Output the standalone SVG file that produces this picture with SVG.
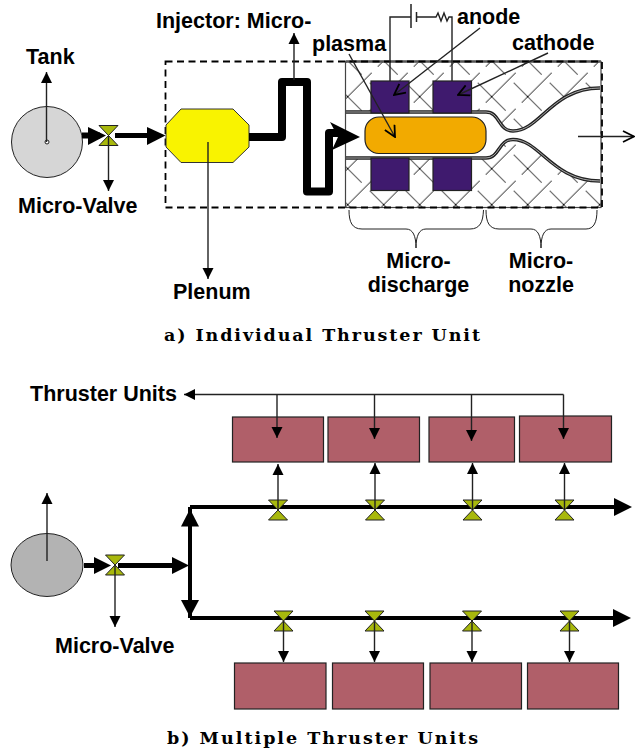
<svg xmlns="http://www.w3.org/2000/svg" width="637" height="751" viewBox="0 0 637 751">
<style>
text{font-family:"Liberation Sans",Arial,sans-serif;font-weight:bold;font-size:21.5px;fill:#000}
text.cap{font-family:"DejaVu Serif","Liberation Serif",serif;font-size:17.500px;font-weight:bold}
.thin{fill:none;stroke:#222;stroke-width:1.4}
.thick{fill:none;stroke:#000;stroke-width:5}
.valve{fill:#a8b80c;stroke:#222;stroke-width:1}
.unit{fill:#b05f69;stroke:#222;stroke-width:1.2}
.elec{fill:#3f1a6e;stroke:#222;stroke-width:1.2}
.wall{fill:none;stroke:#222;stroke-width:3.400}
.wallin{fill:none;stroke:#ccc;stroke-width:.8}
</style>
<defs>
<pattern id="hatch" width="36" height="36" patternUnits="userSpaceOnUse" x="509.700" y="78.700">
<path d="M0 36L6 30M12 24L36 0M4 4L32 32" fill="none" stroke="#111" stroke-width="1"/>
</pattern>
<marker id="a" markerUnits="userSpaceOnUse" markerWidth="12" markerHeight="12" refX="11" refY="6" orient="auto"><path d="M0 .500L11 6L0 11.500Z" fill="#000"/></marker>
<marker id="o" markerUnits="userSpaceOnUse" markerWidth="13" markerHeight="13" refX="12" refY="6.500" orient="auto"><path d="M1 1L12 6.500L1 12" fill="none" stroke="#000" stroke-width="1.800"/></marker>
<polygon id="vv" class="valve" points="-9.500,-10 9.500,-10 -9.500,10 9.500,10"/>
</defs>

<g id="thruster-body">
<rect x="345.500" y="61.500" width="255.500" height="146" fill="#fff"/>
<rect x="345.500" y="61.500" width="255.500" height="146" fill="url(#hatch)"/>
<path d="M345.500 112H486C500 112 498 131 513 131C540 131 552 88 600 88V181C552 181 540 139.500 513 139.500C498 139.500 500 158 486 158H345.500Z" fill="#fff"/>
<path class="wall" d="M345.500 112H486C500 112 498 131 513 131C540 131 552 88 600 88"/>
<path class="wall" d="M345.500 158H486C500 158 498 139.500 513 139.500C540 139.500 552 181 600 181"/>
<path class="wallin" d="M345.500 112H486C500 112 498 131 513 131C540 131 552 88 600 88"/>
<path class="wallin" d="M345.500 158H486C500 158 498 139.500 513 139.500C540 139.500 552 181 600 181"/>
<rect x="345.500" y="61.500" width="255.500" height="146" fill="none" stroke="#444" stroke-width="1.200"/>
<path d="M345.500 61.500H601" fill="none" stroke="#555" stroke-width="2.500"/>
</g>
<rect id="anode-top" class="elec" x="371" y="81" width="38" height="32"/>
<rect id="cathode-top" class="elec" x="433" y="81" width="38.500" height="32"/>
<rect id="anode-bottom" class="elec" x="371" y="158" width="38" height="32.500"/>
<rect id="cathode-bottom" class="elec" x="433" y="158" width="38.500" height="32.500"/>
<rect id="plasma" x="365" y="117" width="121" height="36.500" rx="14" fill="#f2aa00" stroke="#222" stroke-width="1.200"/>
<rect id="unit-boundary" x="165.500" y="61.500" width="436.500" height="146" fill="none" stroke="#000" stroke-width="1.800" stroke-dasharray="7 4.500"/>

<g id="tank-a"><circle cx="47" cy="142" r="35.500" fill="#d6d6d6" stroke="#222" stroke-width="1"/><circle cx="47" cy="142" r="2" fill="#fff" stroke="#222"/></g>
<polygon id="plenum" points="181,109 233,109 249,125 249,147 233,162.500 181,162.500 166,147 166,125" fill="#f9f300" stroke="#333" stroke-width="1"/>
<g id="tank-b"><ellipse cx="47" cy="565" rx="36" ry="31.500" fill="#b3b3b3" stroke="#222" stroke-width="1"/></g>

<g id="connectors">
<path class="thick" d="M82 135.500H100" style="stroke-width:6"/>
<path d="M88 127L106 135.500L88 145Z"/>
<path class="thick" d="M115 135.500H150"/>
<path d="M147 127L165.500 135.500L147 145Z"/>
<path d="M249 137H282V82H307V191.500H329V133H342" fill="none" stroke="#000" stroke-width="8" stroke-linejoin="round"/>
<path d="M330 122L360 137L332 150L338 137Z"/>
<path class="thick" d="M84 565.500H100"/>
<path d="M94 557L111 565.500L94 574Z"/>
<path class="thick" d="M118 565.500H175"/>
<path d="M172 557L189 565.500L172 574Z"/>
<path class="thick" d="M190 507H618M190 618H616M190 507V618" style="stroke-width:4"/>
<path d="M190 509L199 526.500H181Z"/>
<path d="M190 617L199 600H181Z"/>
<path d="M614 498L632 507L614 516Z"/>
<path d="M613 609L631 618L613 627Z"/>
<path class="thin" d="M563.500 394.500H184" marker-end="url(#a)"/>
<path class="thin" d="M390 81V17H411M416.500 17H433L436 17L438 13L441 21L444 13L447 21L449 17H452V81"/>
<path class="thin" d="M411 4V28M416.500 12V22" style="stroke-width:1.500"/>
<path class="thin" d="M480 28L394 95" marker-end="url(#o)"/>
<path class="thin" d="M349 54L395 137" marker-end="url(#o)"/>
<path class="thin" d="M548 53L458 95" marker-end="url(#o)"/>
<path class="thin" d="M578 136.500H634" marker-end="url(#o)"/>
<path class="thin" style="stroke-width:1" d="M349 210C349 222 352 229 362 229H406C413 229 416 236 416 248C416 236 419 229 426 229H470C480 229 483 222 483.500 210"/>
<path class="thin" style="stroke-width:1" d="M486 210C486 222 489 229 499 229H531C538 229 541 236 541 248C541 236 544 229 551 229H586C594 229 597 222 597 210"/>
</g>

<use id="valve-a" href="#vv" x="108.500" y="135.500"/>
<use id="valve-b" href="#vv" x="115" y="565"/>
<use id="valve-t1" href="#vv" x="278" y="510"/>
<use id="valve-t2" href="#vv" x="375" y="510"/>
<use id="valve-t3" href="#vv" x="472.500" y="510"/>
<use id="valve-t4" href="#vv" x="564.500" y="510"/>
<use id="valve-b1" href="#vv" x="283.500" y="621"/>
<use id="valve-b2" href="#vv" x="374.500" y="621"/>
<use id="valve-b3" href="#vv" x="472" y="621"/>
<use id="valve-b4" href="#vv" x="569.500" y="621"/>

<g id="units-top">
<rect class="unit" x="232.500" y="417" width="91" height="45"/>
<rect class="unit" x="328" y="417" width="91.500" height="45"/>
<rect class="unit" x="429" y="417" width="85.500" height="45"/>
<rect class="unit" x="519.500" y="416" width="92" height="46"/>
</g>
<g id="units-bottom">
<rect class="unit" x="234.500" y="663" width="91.500" height="46"/>
<rect class="unit" x="332.500" y="663" width="91" height="46"/>
<rect class="unit" x="430" y="663" width="91.500" height="46"/>
<rect class="unit" x="527.500" y="663" width="91" height="46"/>
</g>
<g id="leaders">
<path class="thin" d="M46.500 142V72" marker-end="url(#a)"/>
<path class="thin" d="M108.500 136V191" marker-end="url(#a)"/>
<path class="thin" d="M208 142V279" marker-end="url(#a)"/>
<path class="thin" d="M294 80V33" marker-end="url(#a)"/>
<path class="thin" d="M47 561V493" marker-end="url(#a)"/>
<path class="thin" d="M115 566V627" marker-end="url(#a)"/>
<path class="thin" d="M277 394.500V438" marker-end="url(#a)"/>
<path class="thin" d="M374.500 394.500V439" marker-end="url(#a)"/>
<path class="thin" d="M471.500 394.500V441" marker-end="url(#a)"/>
<path class="thin" d="M563.500 394.500V439" marker-end="url(#a)"/>
<path class="thin" d="M278 510V464" marker-end="url(#a)"/>
<path class="thin" d="M375 510V463" marker-end="url(#a)"/>
<path class="thin" d="M472.500 510V463" marker-end="url(#a)"/>
<path class="thin" d="M564.500 510V463" marker-end="url(#a)"/>
<path class="thin" d="M283.500 621V662" marker-end="url(#a)"/>
<path class="thin" d="M374.500 621V662" marker-end="url(#a)"/>
<path class="thin" d="M472 621V662" marker-end="url(#a)"/>
<path class="thin" d="M569.500 621V662" marker-end="url(#a)"/>
</g>

<g id="labels">
<text x="26" y="64">Tank</text>
<text x="18" y="213">Micro-Valve</text>
<text x="156" y="28">Injector: Micro-</text>
<text x="312" y="51">plasma</text>
<text x="457" y="23.500">anode</text>
<text x="512" y="50">cathode</text>
<text x="173" y="298.500">Plenum</text>
<text x="418.500" y="267.500" text-anchor="middle">Micro-</text>
<text x="418.500" y="292" text-anchor="middle">discharge</text>
<text x="541" y="267.500" text-anchor="middle">Micro-</text>
<text x="541" y="292" text-anchor="middle">nozzle</text>
<text class="cap" x="164" y="341" textLength="316">a) Individual Thruster Unit</text>
<text x="30" y="401">Thruster Units</text>
<text x="55" y="653">Micro-Valve</text>
<text class="cap" x="167" y="744" textLength="311">b) Multiple Thruster Units</text>
</g>
</svg>
